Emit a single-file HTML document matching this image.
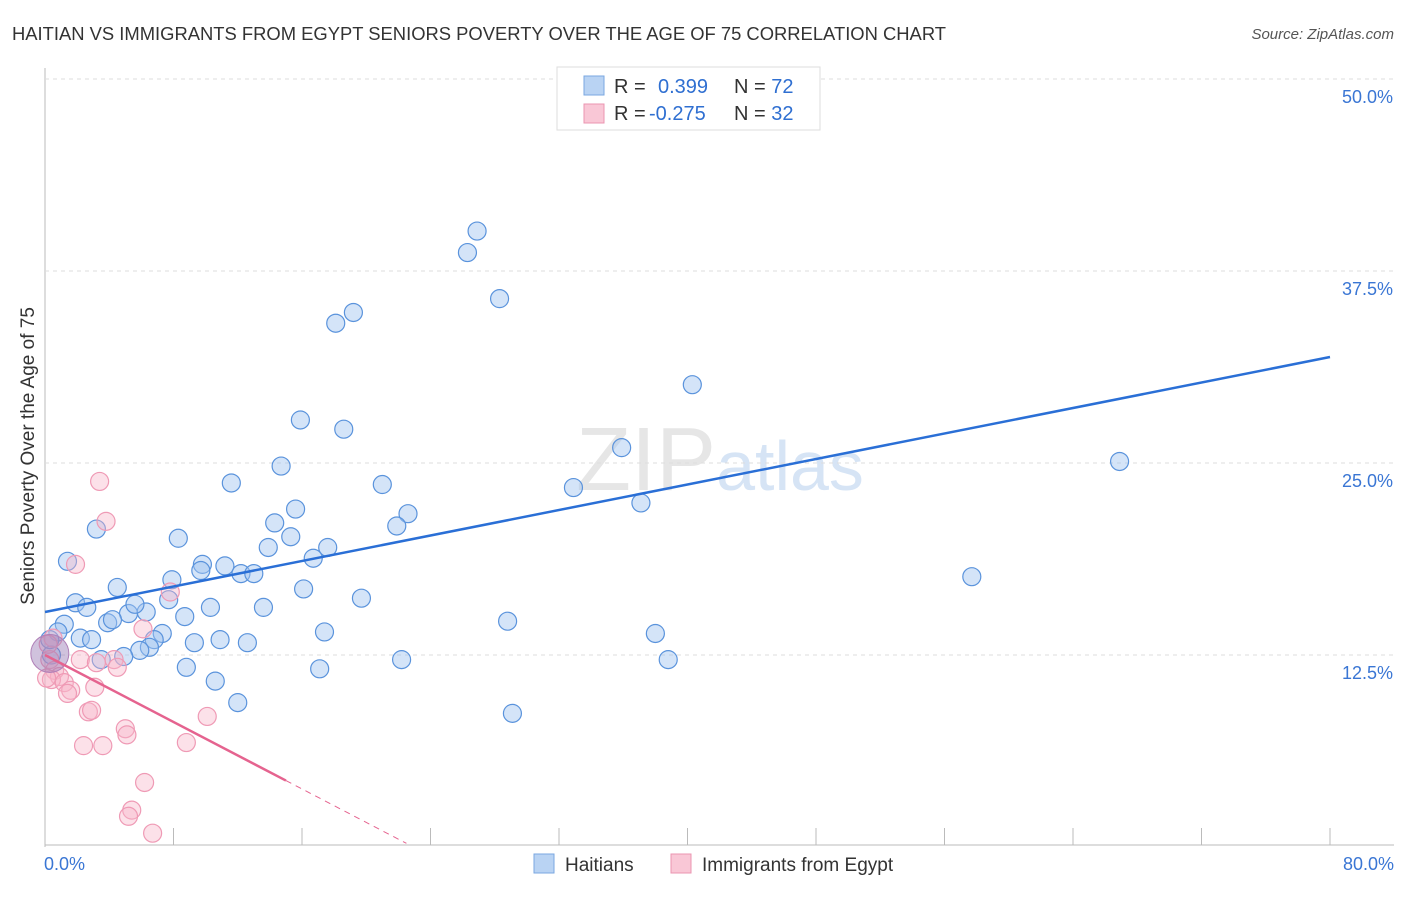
<!DOCTYPE html>
<html><head><meta charset="utf-8"><style>
body{margin:0;background:#fff;font-family:"Liberation Sans",sans-serif;}
svg text{font-family:"Liberation Sans",sans-serif;}
</style></head><body>
<svg id="chart" width="1406" height="892">
<text x="12" y="40" font-size="18.4" fill="#333">HAITIAN VS IMMIGRANTS FROM EGYPT SENIORS POVERTY OVER THE AGE OF 75 CORRELATION CHART</text>
<text x="1394" y="39" font-size="15" fill="#555" text-anchor="end" font-style="italic">Source: ZipAtlas.com</text>
<text x="720" y="490" font-size="90" fill="#e6e6e6" text-anchor="middle" font-family="Liberation Serif">ZIP<tspan fill="#d6e4f5" font-family="Liberation Sans" font-size="70">atlas</tspan></text>
<text transform="translate(34,456) rotate(-90)" font-size="19" fill="#333" text-anchor="middle">Seniors Poverty Over the Age of 75</text>
<g id="grid"></g><g id="marks"></g>
<g>
<rect x="557" y="67" width="263" height="63" fill="#fff" stroke="#ddd"/>
<rect x="584" y="76" width="20" height="19" fill="#b9d3f3" stroke="#7aa7e0"/>
<rect x="584" y="104" width="20" height="19" fill="#f9c7d6" stroke="#eb94b0"/>
<text x="614" y="93" font-size="20" fill="#333">R = <tspan x="658" fill="#2f6fd1">0.399</tspan><tspan x="734" fill="#333">N = </tspan><tspan fill="#2f6fd1">72</tspan></text>
<text x="614" y="120" font-size="20" fill="#333">R = <tspan x="649" fill="#2f6fd1">-0.275</tspan><tspan x="734" fill="#333">N = </tspan><tspan fill="#2f6fd1">32</tspan></text>
</g>
<g>
<rect x="534" y="854" width="20" height="19" fill="#b9d3f3" stroke="#7aa7e0"/>
<text x="565" y="871" font-size="19" fill="#333">Haitians</text>
<rect x="671" y="854" width="20" height="19" fill="#f9c7d6" stroke="#eb94b0"/>
<text x="702" y="871" font-size="19" fill="#333">Immigrants from Egypt</text>
</g>
</svg>
<script>
const yTicks=[12.5,25,37.5,50];
const yTickLabels=["12.5%","25.0%","37.5%","50.0%"];
const xTickLabels=["0.0%","80.0%"];
const blueX=[26.9,26.3,28.3,19.2,18.1,40.3,15.9,18.6,35.9,66.9,14.7,11.6,21.0,32.9,15.6,22.6,37.1,14.3,21.9,3.2,15.3,8.3,13.9,17.6,16.7,1.4,9.8,9.7,11.2,12.2,13.0,57.7,7.9,4.5,16.1,19.7,1.9,7.7,2.6,10.3,13.6,5.2,6.3,5.6,8.7,28.8,3.9,4.2,1.2,0.8,7.3,17.4,38.0,2.2,2.9,9.3,10.9,12.6,6.8,6.5,5.9,4.9,3.5,0.4,22.2,38.8,8.8,17.1,10.6,12.0,29.1,0.3];
const blueY=[40.1,38.7,35.7,34.8,34.1,30.1,27.8,27.2,26.0,25.1,24.8,23.7,23.6,23.4,22.0,21.7,22.4,21.1,20.9,20.7,20.2,20.1,19.5,19.5,18.8,18.6,18.4,18.0,18.3,17.8,17.8,17.6,17.4,16.9,16.8,16.2,15.9,16.1,15.6,15.6,15.6,15.2,15.3,15.8,15.0,14.7,14.6,14.8,14.5,14.0,13.9,14.0,13.9,13.6,13.5,13.3,13.5,13.3,13.5,13.0,12.8,12.4,12.2,12.5,12.2,12.2,11.7,11.6,10.8,9.4,8.7,13.5];
const pinkX=[3.4,3.8,1.9,7.8,6.1,0.5,0.3,2.2,3.2,4.3,4.5,0.6,0.9,0.4,1.2,1.6,1.4,3.1,2.7,2.9,5.0,5.1,10.1,2.4,3.6,8.8,6.2,5.4,5.2,6.7,0.2,0.1];
const pinkY=[23.8,21.2,18.4,16.6,14.2,13.6,12.2,12.2,12.0,12.2,11.7,11.5,11.1,10.9,10.7,10.2,10.0,10.4,8.8,8.9,7.7,7.3,8.5,6.6,6.6,6.8,4.2,2.4,2.0,0.9,13.2,11.0];
const blueTrend=[15.3,31.9]; // y at x=0 and x=80
const pinkTrend=[12.5,-0.545]; // intercept, slope
const X0=45,X1=1330,Y0=847,YTOP=79;
const sx=v=>X0+(X1-X0)*v/80;
const sy=v=>Y0-(Y0-YTOP)*v/50;
const NS="http://www.w3.org/2000/svg";
const grid=document.getElementById('grid'),marks=document.getElementById('marks');
function mk(tag,attrs,parent){const e=document.createElementNS(NS,tag);for(const k in attrs)e.setAttribute(k,attrs[k]);parent.appendChild(e);return e;}
let ax=mk('line',{x1:X0,y1:68,x2:X0,y2:Y0,stroke:'#bbb'},grid);


let bx=mk('line',{x1:X0,y1:Y0-2,x2:1394,y2:Y0-2,stroke:'#bbb'},grid);


yTicks.forEach((t,i)=>{
 let g=mk('line',{x1:X0,y1:sy(t),x2:1394,y2:sy(t),stroke:'#ddd','stroke-dasharray':'4,4'},grid);
 
 
 let tx=mk('text',{x:1393,y:sy(t)+24,'font-size':18,fill:'#3a76d4','text-anchor':'end'},grid);
 tx.textContent=yTickLabels[i];
 
 
});
for(let i=1;i<=10;i++){let xp=sx(i*8);let t=mk('line',{x1:xp,y1:828,x2:xp,y2:Y0-2,stroke:'#bbb'},grid);
 
 }
[[0,44,'start'],[1,1394,'end']].forEach(([i,x,a])=>{let t=mk('text',{x:x,y:870,'font-size':18,fill:'#3a76d4','text-anchor':a},grid);t.textContent=xTickLabels[i];
 
 });
blueX.forEach((x,i)=>{let c=mk('circle',{cx:sx(x),cy:sy(blueY[i]),r:9,fill:'rgba(160,196,240,0.45)',stroke:'#5a93dc','stroke-width':1.2},marks);
 
 });
pinkX.forEach((x,i)=>{let c=mk('circle',{cx:sx(x),cy:sy(pinkY[i]),r:9,fill:'rgba(247,180,200,0.4)',stroke:'#ef9ab5','stroke-width':1.2},marks);
 
 });
let big=mk('circle',{cx:sx(0.3),cy:sy(12.6),r:19,fill:'rgba(150,120,180,0.45)',stroke:'#b080b8'},marks);


let bl=mk('line',{x1:sx(0),y1:sy(blueTrend[0]),x2:sx(80),y2:sy(blueTrend[1]),stroke:'#2a6fd6','stroke-width':2.5},marks);


let pl=mk('line',{x1:sx(0),y1:sy(pinkTrend[0]),x2:sx(15),y2:sy(pinkTrend[0]+pinkTrend[1]*15),stroke:'#e5638f','stroke-width':2.5},marks);


let pd=mk('line',{x1:sx(15),y1:sy(pinkTrend[0]+pinkTrend[1]*15),x2:sx(22.5),y2:sy(pinkTrend[0]+pinkTrend[1]*22.5),stroke:'#e5638f','stroke-width':1,'stroke-dasharray':'6,5'},marks);


</script>
</body></html>
